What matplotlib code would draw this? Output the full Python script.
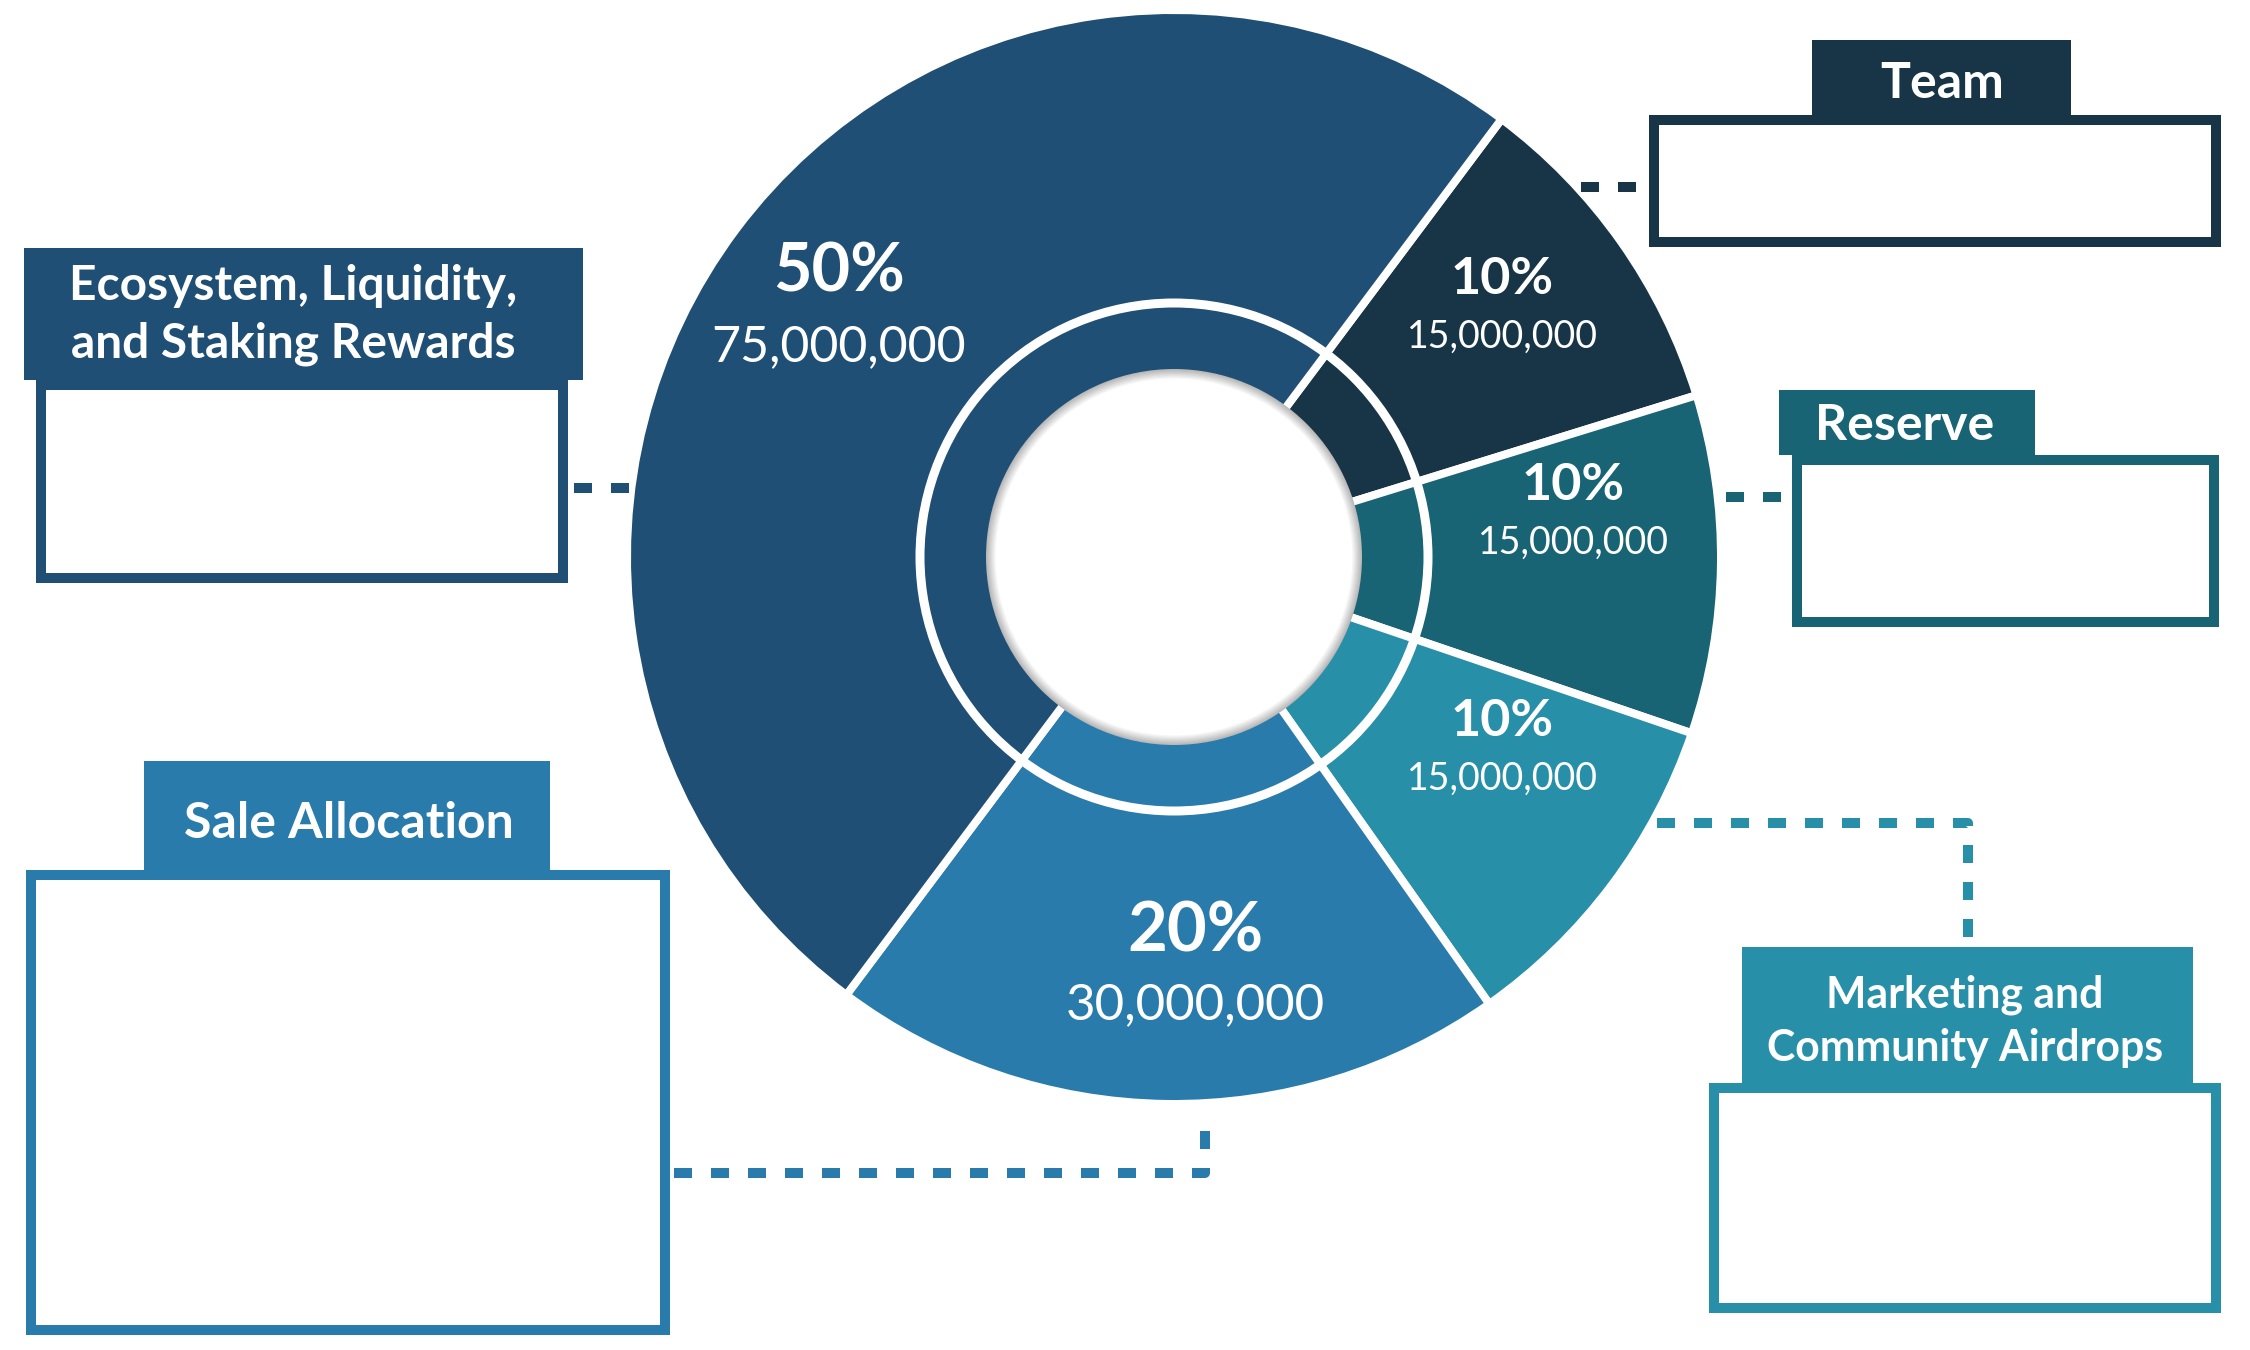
import matplotlib.pyplot as plt
from matplotlib.patches import Rectangle, Circle

# slices, drawn clockwise from the upper right
names = ['Team', 'Reserve', 'Marketing and\nCommunity Airdrops', 'Sale Allocation',
         'Ecosystem, Liquidity,\nand Staking Rewards']
shares = [10, 10, 10, 20, 50]
tokens = [15000000, 15000000, 15000000, 30000000, 75000000]
colors = ['#183547', '#186474', '#288fa9', '#297bab', '#1f4f74']

plt.rcParams['font.family'] = ['Lato', 'DejaVu Sans']

DPI = 150
PX = 72 / DPI  # points per pixel

fig = plt.figure(figsize=(15, 9), dpi=DPI)
ax = fig.add_axes([0, 0, 1, 1])

cx, cy, R = 1174, 557, 547
wedges, _ = ax.pie(shares, colors=colors, center=(cx, cy), radius=R,
                   startangle=-53.2, counterclock=True, frame=True,
                   wedgeprops=dict(edgecolor='white', linewidth=8 * PX))
ax.set_xlim(0, 2250)
ax.set_ylim(1350, 0)
ax.set_aspect('equal')
ax.axis('off')

# thin white ring and the hole with a soft inner shadow
ax.add_patch(Circle((cx, cy), 254, fill=False, ec='white', lw=9 * PX, zorder=2))
steps = 9
for i in range(steps):
    g = 0.72 + 0.28 * i / (steps - 1)
    ax.add_patch(Circle((cx, cy), 188 - i * 1.2, fc=(g, g, g), ec='none', zorder=2))
ax.add_patch(Circle((cx, cy), 188 - steps * 1.2, fc='white', ec='none', zorder=2))

# labels inside the slices: (x, y of percent, y of amount)
label_pos = [(1502, 280, 337), (1573, 485, 543), (1502, 721, 779),
             (1195, 932, 1005), (839, 272, 347)]
pct_size = [25, 25, 25, 33, 32]
amt_size = [18, 18, 18, 24.5, 24]
for s, t, (x, yp, ya), fp, fa in zip(shares, tokens, label_pos, pct_size, amt_size):
    ax.text(x, yp, f'{s}%', color='white', fontsize=fp, fontweight='bold',
            ha='center', va='center', zorder=4)
    ax.text(x, ya, f'{t:,}', color='white', fontsize=fa,
            ha='center', va='center', zorder=4)

# legend boxes: header (x0, y0, x1, y1) and box (x0, y0, x1, y1)
headers = [(1812, 40, 2071, 115), (1779, 390, 2035, 455), (1742, 947, 2193, 1083),
           (144, 761, 550, 870), (24, 248, 583, 380)]
boxes = [(1649, 115, 2221, 247), (1792, 455, 2219, 627), (1709, 1083, 2221, 1313),
         (26, 870, 670, 1335), (36, 380, 568, 583)]
head_text = [(1942, 83), (1905, 426), (1965, 1021), (349, 824), (293, 315)]
head_size = [24, 24, 20.5, 24, 23]
head_spacing = [1.3, 1.3, 1.4, 1.3, 1.35]
connectors = [[(1581, 187), (1643, 187)],
              [(1726, 497), (1790, 497)],
              [(1657, 823), (1968, 823), (1968, 940)],
              [(674, 1173), (1205, 1173), (1205, 1127)],
              [(574, 488), (632, 488)]]

bw = 10
for name, c, h, b, tp, fs, ls, con in zip(names, colors, headers, boxes, head_text,
                                           head_size, head_spacing, connectors):
    ax.add_patch(Rectangle((b[0] + bw / 2, b[1] + bw / 2), b[2] - b[0] - bw, b[3] - b[1] - bw,
                           fc='white', ec=c, lw=bw * PX, zorder=3))
    ax.add_patch(Rectangle((h[0], h[1]), h[2] - h[0], h[3] - h[1], fc=c, ec='none', zorder=3))
    ax.text(tp[0], tp[1], name, color='white', fontsize=fs,
            fontweight='bold', ha='center', va='center', linespacing=ls, zorder=4)
    xs = [p[0] for p in con]
    ys = [p[1] for p in con]
    ax.plot(xs, ys, color=c, lw=10 * PX, linestyle=(0, (1.8, 1.9)),
            dash_capstyle='butt', zorder=3)

fig.savefig('out.png', dpi=DPI, facecolor='white')
